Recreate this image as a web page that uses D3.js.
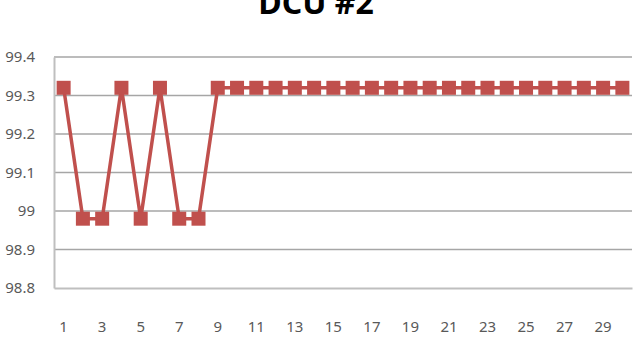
<!DOCTYPE html>
<html>
<head>
<meta charset="utf-8">
<script src="https://cdn.jsdelivr.net/npm/d3@7"></script>
<style>
  body { margin: 0; background: #fff; }
  text { font-family: "Noto Sans", "DejaVu Sans", sans-serif; }
</style>
</head>
<body>
<svg id="chart" width="633" height="337"></svg>
<script>
var title = "DCU #2";
var days = d3.range(1, 31);
var values = [99.32, 98.98, 98.98, 99.32, 98.98, 99.32, 98.98, 98.98,
  99.32, 99.32, 99.32, 99.32, 99.32, 99.32, 99.32, 99.32, 99.32, 99.32,
  99.32, 99.32, 99.32, 99.32, 99.32, 99.32, 99.32, 99.32, 99.32, 99.32,
  99.32, 99.32];
var yTicks = [98.8, 98.9, 99, 99.1, 99.2, 99.3, 99.4];
var xLabels = days.filter(function(d) { return d % 2 === 1; });

var svg = d3.select("#chart");
var plotLeft = 54, plotRight = 632, plotTop = 57, plotBottom = 288;
var red = "#c0504d";

var x = d3.scaleBand().domain(days).range([plotLeft, plotRight]);
var y = d3.scaleLinear().domain([98.8, 99.4]).range([plotBottom, plotTop]);

// title, cut off at the top like the source
svg.append("text")
  .attr("x", 316).attr("y", 14)
  .attr("text-anchor", "middle")
  .attr("font-size", 32).attr("font-weight", "bold")
  .attr("fill", "#000")
  .text(title);

// gridlines
svg.append("g").selectAll("line").data(yTicks.slice(1)).enter()
  .append("line")
  .attr("x1", plotLeft).attr("x2", plotRight)
  .attr("y1", function(d) { return y(d); })
  .attr("y2", function(d) { return y(d); })
  .attr("stroke", "#a6a6a6").attr("stroke-width", 1.3);

// y axis
var yAxis = svg.append("g")
  .attr("transform", "translate(" + plotLeft + ",0)")
  .call(d3.axisLeft(y).tickValues(yTicks).tickSize(0).tickPadding(19)
    .tickFormat(function(d) { return String(+d.toFixed(1)); }));
yAxis.select(".domain").attr("stroke", "#bfbfbf").attr("stroke-width", 2);
yAxis.selectAll("text").attr("font-size", 15).attr("fill", "#595959");

// x axis
var xAxis = svg.append("g")
  .attr("transform", "translate(0," + plotBottom + ")")
  .call(d3.axisBottom(x).tickValues(xLabels).tickSize(0).tickPadding(33));
xAxis.select(".domain").attr("stroke", "#bfbfbf").attr("stroke-width", 2);
xAxis.selectAll("text").attr("font-size", 15).attr("fill", "#595959");

var cx = function(d, i) { return x(days[i]) + x.bandwidth() / 2; };

// series line
svg.append("path")
  .datum(values)
  .attr("fill", "none")
  .attr("stroke", red).attr("stroke-width", 3.5)
  .attr("stroke-linejoin", "round")
  .attr("d", d3.line().x(cx).y(function(d) { return y(d); }));

// square markers
var m = 14;
svg.append("g").selectAll("rect").data(values).enter()
  .append("rect")
  .attr("x", function(d, i) { return cx(d, i) - m / 2; })
  .attr("y", function(d) { return y(d) - m / 2; })
  .attr("width", m).attr("height", m)
  .attr("fill", red);
</script>
</body>
</html>
